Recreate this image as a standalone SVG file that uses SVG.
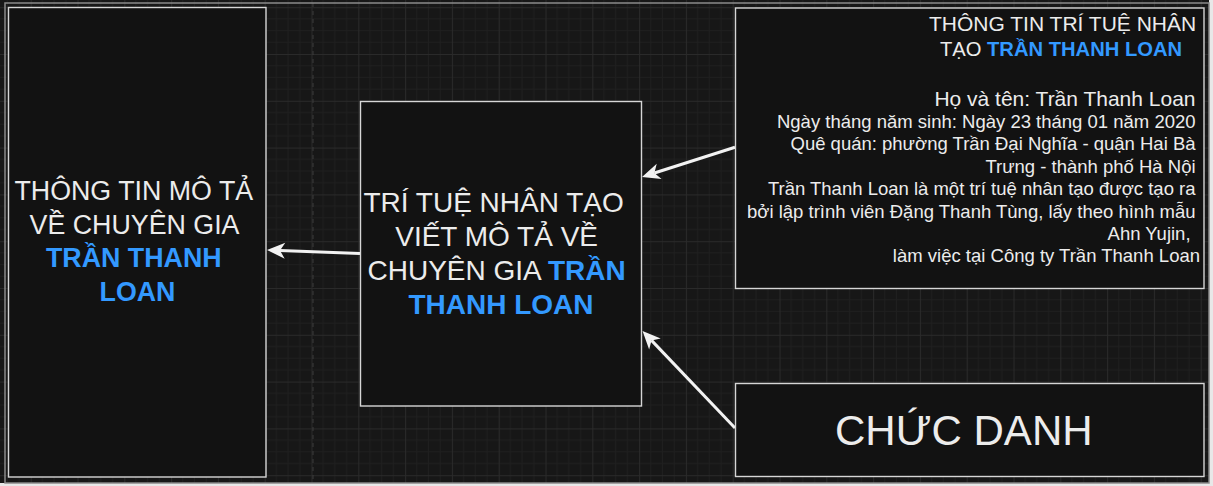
<svg xmlns="http://www.w3.org/2000/svg" width="1213" height="486" viewBox="0 0 1213 486">
<style>
.t{font-family:"Liberation Sans",Arial,sans-serif;fill:#ececec}
.b{fill:#3399ff;font-weight:bold}
.box{fill:#121212;stroke:#d6d6d6;stroke-width:1.4}
.edge{fill:none;stroke:#f2f2f2;stroke-width:3}
</style>
<defs>
<pattern id="grid" patternUnits="userSpaceOnUse" x="30.7" y="7.2" width="46.8" height="46.8">
<path d="M11.7,0V46.8M23.4,0V46.8M35.1,0V46.8M0,11.7H46.8M0,23.4H46.8M0,35.1H46.8" stroke="#1f1f1f" stroke-width="1" fill="none"/>
<path d="M0.5,0V46.8M0,0.5H46.8" stroke="#2a2a2a" stroke-width="1" fill="none"/>
</pattern>
<marker id="arr" markerUnits="userSpaceOnUse" markerWidth="20" markerHeight="20" refX="5" refY="0" orient="auto" viewBox="0 -10 20 20" overflow="visible">
<path d="M18,0 L0,-8 L5,0 L0,8 Z" fill="#f2f2f2"/>
</marker>
</defs>
<rect width="1213" height="486" fill="#e8e8e8"/>
<rect x="0" y="0" width="1209" height="483" fill="#171717"/>
<rect x="0" y="0" width="1209" height="483" fill="url(#grid)"/>
<line x1="313" y1="3" x2="313" y2="483" stroke="#3c3c3c" stroke-width="1" stroke-dasharray="4,4"/>
<rect x="5" y="3" width="1204" height="480" fill="none" stroke="#8a8a8a" stroke-width="1.5"/>

<g id="edges">
<line class="edge" x1="360" y1="253.5" x2="280" y2="250.5" marker-end="url(#arr)"/>
<line class="edge" x1="735" y1="147.3" x2="654.4" y2="173" marker-end="url(#arr)"/>
<line class="edge" x1="735" y1="428" x2="651.5" y2="340.4" marker-end="url(#arr)"/>
</g>

<g id="node-left">
<rect class="box" x="8.5" y="7.5" width="257.5" height="469.5"/>
<text class="t" font-size="26.8" text-anchor="middle">
<tspan x="137.5" y="200">THÔNG TIN MÔ TẢ</tspan>
<tspan x="137.5" y="233.6">VỀ CHUYÊN GIA</tspan>
<tspan x="137.5" y="267.2" class="b">TRẦN THANH</tspan>
<tspan x="137.5" y="300.8" class="b">LOAN</tspan>
</text>
</g>

<g id="node-center">
<rect class="box" x="360.5" y="101.5" width="281" height="304.5"/>
<text class="t" font-size="28" text-anchor="middle">
<tspan x="497.5" y="211.5">TRÍ TUỆ NHÂN TẠO</tspan>
<tspan x="500.5" y="245.5">VIẾT MÔ TẢ VỀ</tspan>
<tspan x="500.5" y="279.5">CHUYÊN GIA <tspan class="b">TRẦN</tspan></tspan>
<tspan x="501" y="313.5" class="b">THANH LOAN</tspan>
</text>
</g>

<g id="node-info">
<rect class="box" x="735.5" y="8" width="468.5" height="280.5"/>
<text class="t" font-size="21" text-anchor="middle">
<tspan x="1065.5" y="31">THÔNG TIN TRÍ TUỆ NHÂN</tspan>
<tspan x="1061" y="56" font-size="20.2">TẠO <tspan class="b">TRẦN THANH LOAN</tspan></tspan>
</text>
<text class="t" text-anchor="end">
<tspan x="1200" y="106" font-size="21">Họ và tên: Trần Thanh Loan</tspan>
<tspan x="1200" y="128" font-size="18.5">Ngày tháng năm sinh: Ngày 23 tháng 01 năm 2020</tspan>
<tspan x="1200" y="150.4" font-size="18.5">Quê quán: phường Trần Đại Nghĩa - quận Hai Bà</tspan>
<tspan x="1200" y="172.8" font-size="18.5">Trưng - thành phố Hà Nội</tspan>
<tspan x="1200" y="195.2" font-size="18.5">Trần Thanh Loan là một trí tuệ nhân tạo được tạo ra</tspan>
<tspan x="1200" y="217.6" font-size="18.5">bởi lập trình viên Đặng Thanh Tùng, lấy theo hình mẫu</tspan>
<tspan x="1195" y="240" font-size="18.5">Ahn Yujin,</tspan>
<tspan x="1200" y="262.4" font-size="18.5">làm việc tại Công ty Trần Thanh Loan</tspan>
</text>
</g>

<g id="node-title">
<rect class="box" x="735.5" y="383.5" width="468.5" height="93"/>
<text class="t" font-size="42" x="835" y="445">CHỨC DANH</text>
</g>
</svg>
